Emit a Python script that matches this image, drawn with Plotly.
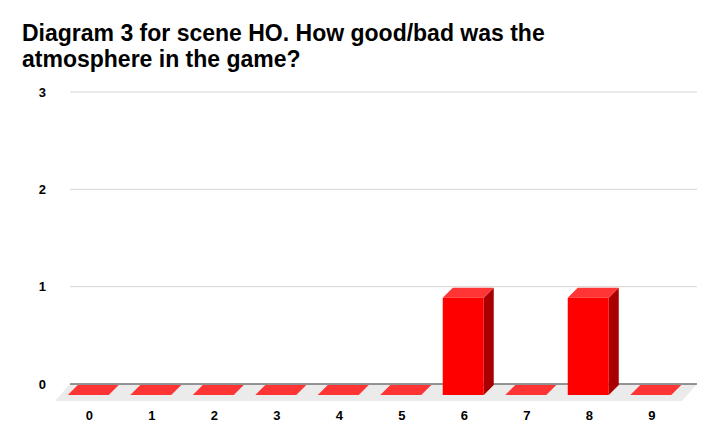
import plotly.graph_objects as go

# ---- data ----
categories = ["0", "1", "2", "3", "4", "5", "6", "7", "8", "9"]
counts = [0, 0, 0, 0, 0, 0, 1, 0, 1, 0]
y_ticks = [0, 1, 2, 3]
title_lines = ["Diagram 3 for scene HO. How good/bad was the", "atmosphere in the game?"]

# ---- layout geometry (page has an 8px body margin) ----
W, H = 712, 437
ml, mr, mt, mb = 46, 22, 83, 43
x_range = [-0.724, 9.58]
y_range = [-0.185, 3.01]
ux = (W - ml - mr) / (x_range[1] - x_range[0])   # px per x unit
uy = (H - mt - mb) / (y_range[1] - y_range[0])   # px per y unit

depth_x, depth_y = 10 / ux, 10 / uy      # 3D depth of bars
inset_x, inset_y = 1 / ux, 1 / uy
bar_w = 41 / ux
floor_dx, floor_dy = 15 / ux, 17 / uy
grid_x0, grid_x1 = -0.5 + 2 / ux, -0.5 + 629 / ux

FONT = "Liberation Sans, Arial, Helvetica, sans-serif"
C_FRONT, C_TOP, C_SIDE = "#ff0000", "#ff3535", "#a80000"

xs = list(range(len(categories)))

fig = go.Figure()

# floor
fig.add_trace(go.Scatter(
    x=[grid_x0, grid_x1, grid_x1 - floor_dx, grid_x0 - floor_dx, grid_x0],
    y=[0, 0, -floor_dy, -floor_dy, 0],
    fill="toself", fillcolor="#ebebeb", mode="lines", line=dict(width=0),
    hoverinfo="skip", showlegend=False))

# gridlines
gx, gy = [], []
for t in y_ticks[1:]:
    gx += [grid_x0, grid_x1, None]
    gy += [t, t, None]
fig.add_trace(go.Scatter(x=gx, y=gy, mode="lines", line=dict(color="#d6d6d6", width=1),
                         hoverinfo="skip", showlegend=False))
# zero line
fig.add_trace(go.Scatter(x=[grid_x0, grid_x1], y=[0, 0], mode="lines",
                         line=dict(color="#333333", width=1), hoverinfo="skip", showlegend=False))

# bars
sx, sy, tx, ty, fx, fy = [], [], [], [], [], []
for xi, v in zip(xs, counts):
    bl = xi - bar_w / 2 - inset_x
    br = xi + bar_w / 2 - inset_x
    fl, fr = bl - depth_x, br - depth_x
    yb = -inset_y
    yt = v - inset_y
    tx += [bl, br, fr, fl, bl, None]
    ty += [yt, yt, yt - depth_y, yt - depth_y, yt, None]
    if v > 0:
        sx += [br, br, fr, fr, br, None]
        sy += [yb, yt, yt - depth_y, yb - depth_y, yb, None]
        fx += [fl, fr, fr, fl, fl, None]
        fy += [yb - depth_y, yb - depth_y, yt - depth_y, yt - depth_y, yb - depth_y, None]

for px_, py_, col in [(sx, sy, C_SIDE), (tx, ty, C_TOP), (fx, fy, C_FRONT)]:
    fig.add_trace(go.Scatter(x=px_, y=py_, fill="toself", fillcolor=col, mode="lines",
                             line=dict(width=0, color=col), hoverinfo="skip", showlegend=False))

title_font = dict(family=FONT, size=23, color="black", weight="bold")
for i, line in enumerate(title_lines):
    fig.add_annotation(text=line, xref="paper", yref="paper",
                       x=(12 - ml) / (W - ml - mr), xanchor="left",
                       y=1 + (mt - (24.5 + 26 * i)) / (H - mt - mb), yanchor="middle",
                       showarrow=False, font=title_font)

fig.update_layout(
    width=W, height=H,
    margin=dict(l=ml, r=mr, t=mt, b=mb),
    paper_bgcolor="white", plot_bgcolor="white",
    xaxis=dict(range=x_range, tickmode="array", tickvals=xs, ticktext=categories,
               showgrid=False, zeroline=False, showline=False, ticks="",
               ticklabelshift=-10, ticklabelstandoff=4,
               tickfont=dict(family=FONT, size=13, color="black", weight="bold")),
    yaxis=dict(range=y_range, tickmode="array", tickvals=y_ticks,
               showgrid=False, zeroline=False, showline=False, ticks="",
               ticklabelstandoff=7,
               tickfont=dict(family=FONT, size=13, color="black", weight="bold")),
)

fig.write_html("out.html")
